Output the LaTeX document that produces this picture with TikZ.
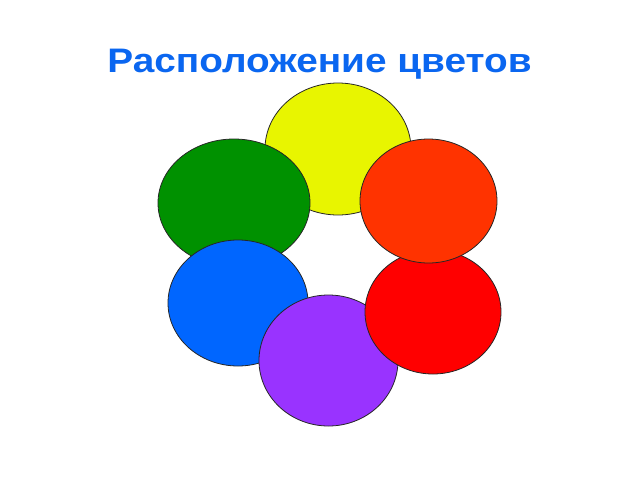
\documentclass[tikz,border=0pt]{standalone}
\usepackage{fontspec}
\setmainfont{Liberation Sans}
\definecolor{cyellow}{HTML}{E8F500}
\definecolor{cgreen}{HTML}{009100}
\definecolor{corange}{HTML}{FF3300}
\definecolor{cred}{HTML}{FF0000}
\definecolor{cblue}{HTML}{0066FF}
\definecolor{cpurple}{HTML}{9933FF}
\definecolor{ctitle}{HTML}{0A66F0}
\tikzset{blob/.style={draw=black!85, line width=0.8pt}}
\begin{document}
\begin{tikzpicture}[x=1pt,y=-1pt]
\useasboundingbox (0,0) rectangle (640,480);
\node[anchor=base, font=\bfseries\fontsize{34}{40}\selectfont, text=ctitle, inner sep=0, xscale=1.14] (title) at (319.5,72) {Расположение цветов};
\path[blob, fill=cyellow] (338,149) ellipse [x radius=73, y radius=66];
\path[blob, fill=cgreen] (234,203) ellipse [x radius=76, y radius=64];
\path[blob, fill=cblue] (238,303) ellipse [x radius=70, y radius=63];
\path[blob, fill=cpurple] (328.5,360.5) ellipse [x radius=69.5, y radius=65.5];
\path[blob, fill=cred] (433,312) ellipse [x radius=68, y radius=62];
\path[blob, fill=corange] (428.5,201) ellipse [x radius=68.5, y radius=62];
\end{tikzpicture}
\end{document}
